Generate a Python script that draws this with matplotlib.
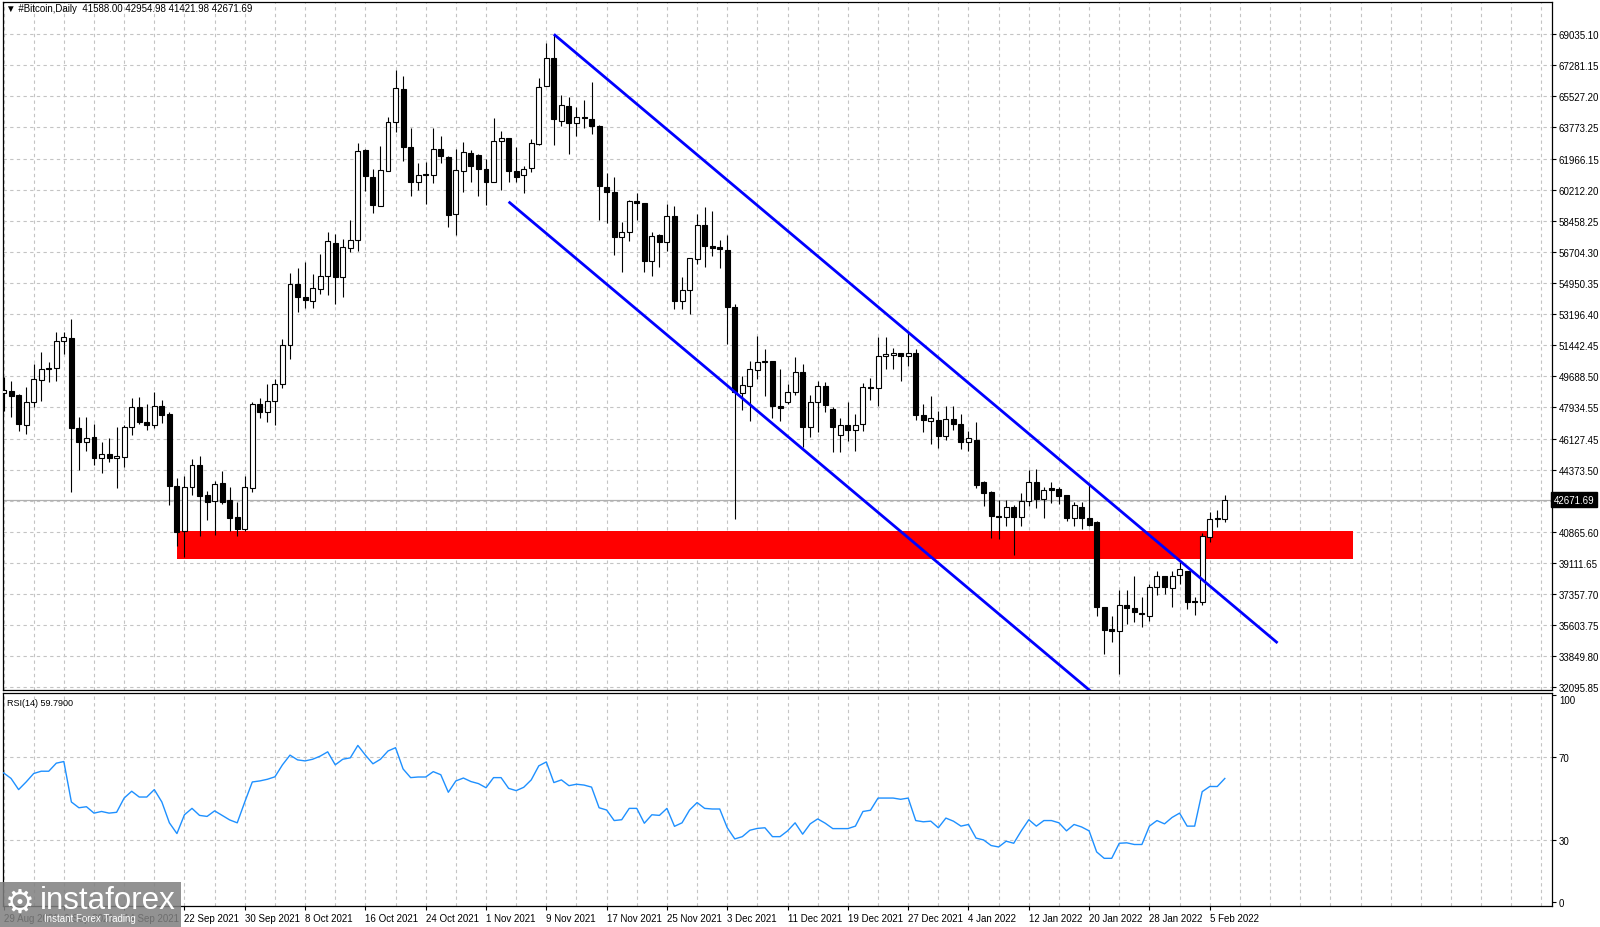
import numpy as np
import pandas as pd
import matplotlib
matplotlib.use("Agg")
import matplotlib.pyplot as plt
from matplotlib.transforms import blended_transform_factory
from matplotlib.patches import Rectangle

plt.rcParams['font.family'] = ['Liberation Sans', 'DejaVu Sans']

# ---------------- data ----------------
start_date = '2021-08-29'

opens = [48700, 48850, 48600, 46900, 48190, 49470, 50110, 50110, 51640, 51830,
         46720, 45965, 46250, 45020, 45270, 45020, 45115, 46775, 47905, 47060,
         46905, 47960, 47530, 43475, 40895, 43380, 44645, 42950, 42590, 43625,
         42665, 41685, 41025, 43325, 48095, 47650, 48250, 49200, 51430, 54880,
         54125, 53900, 54600, 55350, 57200, 55295, 56900, 57370, 62460, 60915,
         59275, 61250, 64025, 65910, 62610, 60630, 61065, 61065, 62515, 62045,
         58840, 61290, 62290, 62175, 61385, 60665, 62985, 63120, 61290, 61065,
         61420, 62800, 66060, 67660, 64115, 64965, 63985, 64305, 64210, 63800,
         60345, 60065, 57520, 57800, 59555, 59460, 56200, 57650, 57275, 58745,
         53940, 54560, 56295, 58235, 57050, 56955, 56805, 53560, 48700, 49130,
         50035, 50450, 50545, 47960, 48225, 48755, 49925, 46775, 48225, 49130,
         47810, 46340, 46925, 46645, 46965, 49040, 48980, 50790, 50865, 50960,
         50790, 50960, 47490, 47150, 47210, 46265, 47245, 46965, 45925, 46075,
         43665, 43100, 41780, 41685, 42250, 41685, 42630, 43700, 42720, 43325,
         43290, 42950, 41650, 42250, 41650, 41405, 36595, 35370, 35275, 36730,
         36540, 36275, 36085, 37765, 38350, 37690, 38425, 38670, 36975, 36880,
         40555, 41590, 41588.00]
highs = [49600, 49400, 48650, 49075, 50360, 51050, 50450, 52150, 52185, 52900,
         47340, 47340, 46960, 45930, 46190, 46795, 46905, 48435, 48470, 48095,
         48755, 48340, 47660, 43910, 44005, 44985, 45135, 43155, 43760, 44325,
         43380, 42570, 44040, 48190, 48450, 49200, 49500, 51770, 55485, 55770,
         56145, 55445, 56575, 57840, 57710, 57425, 58500, 62855, 62515, 61385,
         62705, 64305, 67000, 66625, 63705, 61725, 61800, 63685, 63230, 62100,
         62515, 62930, 62460, 62230, 61950, 64270, 63515, 63120, 62645, 61570,
         63080, 66510, 68510, 69000, 65570, 65435, 64910, 65305, 66325, 63870,
         61155, 60915, 58370, 59630, 60025, 59460, 57800, 57710, 59405, 59310,
         55260, 56330, 58840, 59215, 59025, 57390, 57650, 53750, 49700, 50545,
         51960, 51205, 50545, 50075, 49225, 50735, 50355, 48605, 49415, 49355,
         47905, 47285, 48225, 47530, 49265, 49545, 51865, 51865, 51245, 50960,
         52145, 51205, 48095, 48530, 47715, 47960, 47960, 47530, 46585, 47060,
         43760, 43190, 42685, 42685, 42385, 43060, 44360, 44420, 43380, 43700,
         43380, 42950, 42535, 42570, 43515, 41495, 36595, 36085, 37575, 37575,
         38350, 37160, 37915, 38670, 38385, 38670, 39140, 38670, 37160, 40800,
         42005, 42120, 42954.98]
lows = [47700, 47340, 46585, 46400, 47900, 48245, 49320, 49415, 50920, 43140,
        44360, 45420, 44665, 44190, 44835, 43325, 44550, 46340, 46965, 46625,
        46755, 47020, 42380, 40045, 39425, 42965, 40610, 41555, 40705, 42440,
        40930, 40610, 40895, 43135, 47300, 47100, 46900, 49000, 50640, 53315,
        53505, 53525, 54315, 54260, 53750, 54125, 56670, 56765, 60120, 58895,
        59275, 61250, 63460, 61855, 59875, 60215, 59405, 60590, 61725, 58085,
        57670, 60100, 60665, 59875, 59350, 60630, 60215, 60665, 60630, 60025,
        61230, 62740, 66060, 62740, 63835, 62230, 63270, 63685, 63365, 58520,
        58330, 56520, 55540, 57330, 58500, 55540, 55315, 55825, 56765, 53465,
        53465, 53185, 56010, 55825, 56445, 55765, 51490, 41590, 47775, 47115,
        49500, 48565, 47300, 47150, 48095, 48605, 45645, 46210, 46490, 47625,
        45400, 45400, 46020, 45455, 46585, 48320, 47960, 50075, 50075, 49415,
        50260, 47210, 46490, 45830, 45590, 46075, 46625, 45550, 45455, 43325,
        42345, 40500, 40460, 41175, 39555, 41215, 42345, 42215, 41650, 42495,
        42440, 41495, 41175, 41025, 41175, 36085, 33955, 34615, 32825, 35655,
        35785, 35465, 35840, 37295, 37350, 36595, 37915, 36500, 36180, 36745,
        40310, 41120, 41421.98]
closes = [48900, 48565, 46960, 48190, 49510, 50075, 50055, 51640, 51880, 46720,
          45965, 46170, 45020, 45270, 45020, 45135, 46795, 47905, 47060, 46905,
          47960, 47470, 43440, 40835, 43380, 44645, 42910, 42570, 43570, 42535,
          41650, 41025, 43380, 48095, 47650, 48250, 49200, 51430, 54880, 54125,
          53975, 54635, 55315, 57295, 55295, 56955, 57390, 62385, 60970, 59350,
          61330, 64060, 65965, 62610, 60665, 61065, 61100, 62515, 62100, 58800,
          61330, 62325, 61570, 61385, 60665, 62985, 63120, 61250, 60915, 61385,
          62835, 66000, 67660, 64210, 65005, 63985, 64305, 64250, 63835, 60440,
          60065, 57520, 57800, 59555, 59460, 56200, 57615, 57275, 58745, 53940,
          54560, 56330, 58235, 57050, 56935, 56840, 53560, 48755, 49170, 50075,
          50450, 50545, 47960, 47885, 48755, 49925, 46775, 48225, 49130, 48040,
          46815, 46925, 46645, 46925, 49075, 48980, 50790, 50920, 50960, 50790,
          50960, 47490, 47210, 47285, 46305, 47245, 46965, 45925, 46150, 43515,
          43040, 41780, 41725, 42250, 41685, 42590, 43700, 42720, 43230, 43250,
          42910, 41650, 42385, 41630, 41250, 36595, 35335, 35275, 36745, 36540,
          36315, 36200, 37765, 38350, 37725, 38385, 38765, 36880, 36915, 40610,
          41590, 41650, 42671.69]

rsi_values = [62.5, 59.8, 54.4, 58.1, 62.2, 63.3, 63.3, 67.2, 68.0, 48.4,
              45.6, 46.1, 43.0, 43.8, 43.0, 43.4, 50.3, 53.6, 50.8, 50.8,
              54.4, 48.4, 38.3, 33.1, 42.2, 45.3, 41.9, 41.4, 44.1, 41.9,
              39.7, 38.3, 48.4, 58.1, 58.6, 59.4, 60.6, 66.4, 71.1, 68.8,
              68.3, 69.1, 70.6, 72.7, 66.4, 69.1, 69.8, 75.8, 71.1, 66.9,
              69.1, 73.1, 74.7, 64.4, 60.2, 60.5, 60.5, 63.1, 61.6, 53.1,
              58.6, 60.0, 58.3, 57.3, 55.3, 60.2, 60.2, 55.0, 53.9, 55.5,
              59.1, 65.9, 67.8, 57.8, 59.1, 56.3, 57.0, 56.6, 55.6, 45.6,
              44.5, 39.4, 39.8, 45.3, 45.3, 38.1, 42.2, 41.9, 45.3, 36.6,
              38.3, 44.5, 48.1, 45.3, 45.0, 45.0, 35.9, 30.5, 31.6, 34.7,
              35.6, 35.9, 31.6, 31.6, 34.4, 38.3, 32.8, 37.8, 40.2, 38.1,
              35.5, 35.5, 35.5, 36.7, 43.8, 44.4, 50.3, 50.3, 50.3, 49.7,
              50.3, 39.4, 38.8, 39.1, 35.9, 40.6, 39.1, 36.7, 37.5, 30.9,
              30.0, 27.3, 26.6, 29.4, 28.4, 34.4, 39.8, 36.7, 39.4, 39.4,
              38.3, 34.4, 37.5, 36.3, 34.4, 24.2, 21.1, 21.1, 28.4, 28.6,
              27.8, 27.8, 36.7, 39.4, 37.8, 40.9, 43.0, 36.7, 36.7, 53.4,
              55.9, 55.9, 59.79]

price_ticks = [69035.10, 67281.15, 65527.20, 63773.25, 61966.15, 60212.20,
               58458.25, 56704.30, 54950.35, 53196.40, 51442.45, 49688.50,
               47934.55, 46127.45, 44373.50, 42619.55, 40865.60, 39111.65,
               37357.70, 35603.75, 33849.80, 32095.85]
price_tick_labels = ['69035.10', '67281.15', '65527.20', '63773.25', '61966.15',
                     '60212.20', '58458.25', '56704.30', '54950.35', '53196.40',
                     '51442.45', '49688.50', '47934.55', '46127.45', '44373.50',
                     '', '40865.60', '39111.65', '37357.70', '35603.75',
                     '33849.80', '32095.85']
rsi_ticks = [0, 30, 70, 100]
date_tick_labels = ['29 Aug 2021', '6 Sep 2021', '14 Sep 2021', '22 Sep 2021',
                    '30 Sep 2021', '8 Oct 2021', '16 Oct 2021', '24 Oct 2021',
                    '1 Nov 2021', '9 Nov 2021', '17 Nov 2021', '25 Nov 2021',
                    '3 Dec 2021', '11 Dec 2021', '19 Dec 2021', '27 Dec 2021',
                    '4 Jan 2022', '12 Jan 2022', '20 Jan 2022', '28 Jan 2022',
                    '5 Feb 2022']

last_price = 42671.69
rsi_last = 59.79
support_zone_prices = (39320, 40935)
support_zone_dates = ('2021-09-21', '2022-02-24')
channel_upper = [('2021-11-10', 69000), ('2022-02-14', 34580)]
channel_lower = [('2021-11-04', 59530), ('2022-01-21', 31570)]

# ---------------- helpers ----------------
t0 = pd.Timestamp(start_date)
def dpos(d):
    return (pd.Timestamp(d) - t0).days

o = np.array(opens, float); h = np.array(highs, float)
l = np.array(lows, float); c = np.array(closes, float)
x = np.arange(len(c))

W, H = 1600, 928
fig = plt.figure(figsize=(W / 100, H / 100), dpi=100)
left_px, right_px = 3, 1552
ax = fig.add_axes([left_px / W, 1 - 691 / H, (right_px - left_px) / W, (691 - 3) / H])
ax2 = fig.add_axes([left_px / W, 1 - 907 / H, (right_px - left_px) / W, (907 - 694) / H])

xmin, xmax = -0.07, 205.4
grid_kw = dict(color='#c4c4c4', linestyle=(0, (3, 3)), linewidth=0.8)

for a in (ax, ax2):
    a.set_xlim(xmin, xmax)
    for s in a.spines.values():
        s.set_color('black')
        s.set_linewidth(0.9)
    a.set_facecolor('white')

# vertical grid every 4 days
for gx in np.arange(0, 206, 4):
    ax.axvline(gx, zorder=0, **grid_kw)
    ax2.axvline(gx, zorder=0, **grid_kw)

# ---------------- main price panel ----------------
ax.set_ylim(31921, 70824)
for p in price_ticks:
    ax.axhline(p, zorder=0, **grid_kw)

# support zone
zx0, zx1 = dpos(support_zone_dates[0]), dpos(support_zone_dates[1])
ax.add_patch(Rectangle((zx0, support_zone_prices[0]), zx1 - zx0,
                       support_zone_prices[1] - support_zone_prices[0],
                       facecolor='#ff0000', edgecolor='none', zorder=1))

# current price line
ax.axhline(last_price, color='#b0b0b0', linewidth=0.9, zorder=1)

# candles
up = c >= o
ax.vlines(x, l, h, color='black', linewidth=0.8, zorder=2)
bottom = np.minimum(o, c)
height = np.maximum(np.abs(c - o), 1.0)
ax.bar(x[up], height[up], bottom=bottom[up], width=0.66, facecolor='white',
       edgecolor='black', linewidth=0.8, zorder=3)
ax.bar(x[~up], height[~up], bottom=bottom[~up], width=0.66, facecolor='black',
       edgecolor='black', linewidth=0.8, zorder=3)

# channel lines
for line in (channel_upper, channel_lower):
    xs = [dpos(d) for d, _ in line]
    ys = [v for _, v in line]
    ax.plot(xs, ys, color='#0000ff', linewidth=2.0, zorder=4, solid_capstyle='butt')

ax.yaxis.tick_right()
ax.set_yticks(price_ticks)
ax.set_yticklabels(price_tick_labels)
ax.tick_params(axis='y', direction='out', length=3, width=0.8, pad=2,
               labelsize=7, colors='black')
ax.set_xticks([])

# current price label box
tr = blended_transform_factory(ax.transAxes, ax.transData)
ax.text(1.001, last_price, f'{last_price:.2f}', transform=tr, ha='left', va='center',
        fontsize=7, color='white', zorder=10, clip_on=False,
        bbox=dict(facecolor='black', edgecolor='black', boxstyle='square,pad=0.25'))

fig.text(6 / W, 1 - 9.5 / H, '\u25bc #Bitcoin,Daily  41588.00 42954.98 41421.98 42671.69',
         fontsize=7, ha='left', va='center', color='black')

# ---------------- RSI panel ----------------
ax2.set_ylim(-2, 101.2)
for g in (30, 70):
    ax2.axhline(g, zorder=0, **grid_kw)
ax2.plot(x, rsi_values, color='#1e90ff', linewidth=1.0, zorder=3)
ax2.yaxis.tick_right()
ax2.set_yticks(rsi_ticks)
ax2.set_yticklabels([str(v) for v in rsi_ticks])
ax2.tick_params(axis='y', direction='out', length=3, width=0.8, pad=2,
                labelsize=7, colors='black')
ylabs = ax2.get_yticklabels()
ylabs[-1].set_verticalalignment('top')
xt = [dpos(s) for s in date_tick_labels]
ax2.set_xticks(xt)
ax2.set_xticklabels(date_tick_labels)
ax2.tick_params(axis='x', direction='out', length=3, width=0.8, pad=2,
                labelsize=7, colors='black')
for lab in ax2.get_xticklabels():
    lab.set_horizontalalignment('left')
ax2.text(4 / (right_px - left_px), 0.955, f'RSI(14) {rsi_last:.4f}',
         transform=ax2.transAxes, fontsize=6.5, ha='left', va='center')

# ---------------- watermark logo ----------------
fig.add_artist(Rectangle((0, 0), 181 / W, 45 / H, transform=fig.transFigure,
                         facecolor='#808080', edgecolor='none', alpha=0.86, zorder=20))
fig.text(20 / W, 1 - 903 / H, '\u2699', fontsize=24, color='white', ha='center',
         va='center', family='DejaVu Sans', zorder=21)
fig.text(40 / W, 1 - 909 / H, 'instaforex', fontsize=22.5, color='white', ha='left',
         va='baseline', zorder=21)
fig.text(44 / W, 1 - 919 / H, 'Instant Forex Trading', fontsize=7, color='white',
         ha='left', va='center', zorder=21)

fig.savefig('out.png', dpi=100, facecolor='white')
